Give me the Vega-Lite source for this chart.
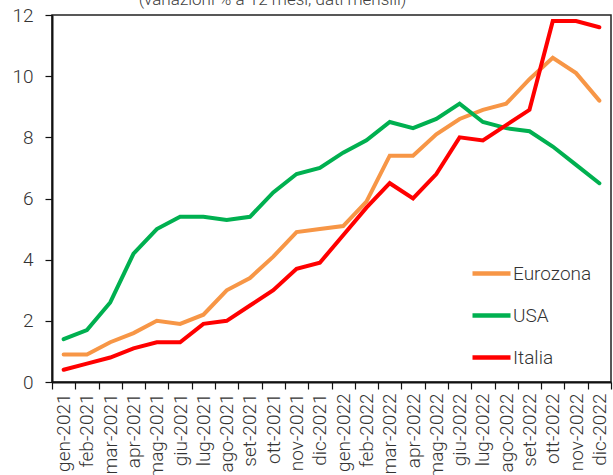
{
  "$schema": "https://vega.github.io/schema/vega-lite/v6.json",
  "autosize": {"type": "none"},
  "width": 559,
  "height": 367,
  "padding": {"left": 52, "top": 15, "right": 2, "bottom": 93},
  "background": "white",
  "title": {
    "text": "(variazioni % a 12 mesi, dati mensili)",
    "font": "Roboto",
    "fontWeight": 300,
    "fontSize": 17,
    "color": "#404040",
    "baseline": "alphabetic",
    "anchor": "middle",
    "frame": "group",
    "dx": -59,
    "dy": 13,
    "offset": -3
  },
  "config": {
    "view": {"stroke": "#222", "strokeWidth": 1.5},
    "font": "Roboto",
    "axis": {
      "labelFont": "Roboto",
      "labelFontWeight": 300,
      "labelFontSize": 19,
      "labelColor": "#333",
      "domainColor": "#111",
      "domainWidth": 2,
      "tickColor": "#111",
      "tickWidth": 1.2,
      "tickSize": 7,
      "grid": false,
      "title": null
    }
  },
  "datasets": {
    "infl": [
      {"mese": "gen-2021", "serie": "Eurozona", "valore": 0.9},
      {"mese": "feb-2021", "serie": "Eurozona", "valore": 0.9},
      {"mese": "mar-2021", "serie": "Eurozona", "valore": 1.3},
      {"mese": "apr-2021", "serie": "Eurozona", "valore": 1.6},
      {"mese": "mag-2021", "serie": "Eurozona", "valore": 2.0},
      {"mese": "giu-2021", "serie": "Eurozona", "valore": 1.9},
      {"mese": "lug-2021", "serie": "Eurozona", "valore": 2.2},
      {"mese": "ago-2021", "serie": "Eurozona", "valore": 3.0},
      {"mese": "set-2021", "serie": "Eurozona", "valore": 3.4},
      {"mese": "ott-2021", "serie": "Eurozona", "valore": 4.1},
      {"mese": "nov-2021", "serie": "Eurozona", "valore": 4.9},
      {"mese": "dic-2021", "serie": "Eurozona", "valore": 5.0},
      {"mese": "gen-2022", "serie": "Eurozona", "valore": 5.1},
      {"mese": "feb-2022", "serie": "Eurozona", "valore": 5.9},
      {"mese": "mar-2022", "serie": "Eurozona", "valore": 7.4},
      {"mese": "apr-2022", "serie": "Eurozona", "valore": 7.4},
      {"mese": "mag-2022", "serie": "Eurozona", "valore": 8.1},
      {"mese": "giu-2022", "serie": "Eurozona", "valore": 8.6},
      {"mese": "lug-2022", "serie": "Eurozona", "valore": 8.9},
      {"mese": "ago-2022", "serie": "Eurozona", "valore": 9.1},
      {"mese": "set-2022", "serie": "Eurozona", "valore": 9.9},
      {"mese": "ott-2022", "serie": "Eurozona", "valore": 10.6},
      {"mese": "nov-2022", "serie": "Eurozona", "valore": 10.1},
      {"mese": "dic-2022", "serie": "Eurozona", "valore": 9.2},
      {"mese": "gen-2021", "serie": "USA", "valore": 1.4},
      {"mese": "feb-2021", "serie": "USA", "valore": 1.7},
      {"mese": "mar-2021", "serie": "USA", "valore": 2.6},
      {"mese": "apr-2021", "serie": "USA", "valore": 4.2},
      {"mese": "mag-2021", "serie": "USA", "valore": 5.0},
      {"mese": "giu-2021", "serie": "USA", "valore": 5.4},
      {"mese": "lug-2021", "serie": "USA", "valore": 5.4},
      {"mese": "ago-2021", "serie": "USA", "valore": 5.3},
      {"mese": "set-2021", "serie": "USA", "valore": 5.4},
      {"mese": "ott-2021", "serie": "USA", "valore": 6.2},
      {"mese": "nov-2021", "serie": "USA", "valore": 6.8},
      {"mese": "dic-2021", "serie": "USA", "valore": 7.0},
      {"mese": "gen-2022", "serie": "USA", "valore": 7.5},
      {"mese": "feb-2022", "serie": "USA", "valore": 7.9},
      {"mese": "mar-2022", "serie": "USA", "valore": 8.5},
      {"mese": "apr-2022", "serie": "USA", "valore": 8.3},
      {"mese": "mag-2022", "serie": "USA", "valore": 8.6},
      {"mese": "giu-2022", "serie": "USA", "valore": 9.1},
      {"mese": "lug-2022", "serie": "USA", "valore": 8.5},
      {"mese": "ago-2022", "serie": "USA", "valore": 8.3},
      {"mese": "set-2022", "serie": "USA", "valore": 8.2},
      {"mese": "ott-2022", "serie": "USA", "valore": 7.7},
      {"mese": "nov-2022", "serie": "USA", "valore": 7.1},
      {"mese": "dic-2022", "serie": "USA", "valore": 6.5},
      {"mese": "gen-2021", "serie": "Italia", "valore": 0.4},
      {"mese": "feb-2021", "serie": "Italia", "valore": 0.6},
      {"mese": "mar-2021", "serie": "Italia", "valore": 0.8},
      {"mese": "apr-2021", "serie": "Italia", "valore": 1.1},
      {"mese": "mag-2021", "serie": "Italia", "valore": 1.3},
      {"mese": "giu-2021", "serie": "Italia", "valore": 1.3},
      {"mese": "lug-2021", "serie": "Italia", "valore": 1.9},
      {"mese": "ago-2021", "serie": "Italia", "valore": 2.0},
      {"mese": "set-2021", "serie": "Italia", "valore": 2.5},
      {"mese": "ott-2021", "serie": "Italia", "valore": 3.0},
      {"mese": "nov-2021", "serie": "Italia", "valore": 3.7},
      {"mese": "dic-2021", "serie": "Italia", "valore": 3.9},
      {"mese": "gen-2022", "serie": "Italia", "valore": 4.8},
      {"mese": "feb-2022", "serie": "Italia", "valore": 5.7},
      {"mese": "mar-2022", "serie": "Italia", "valore": 6.5},
      {"mese": "apr-2022", "serie": "Italia", "valore": 6.0},
      {"mese": "mag-2022", "serie": "Italia", "valore": 6.8},
      {"mese": "giu-2022", "serie": "Italia", "valore": 8.0},
      {"mese": "lug-2022", "serie": "Italia", "valore": 7.9},
      {"mese": "ago-2022", "serie": "Italia", "valore": 8.4},
      {"mese": "set-2022", "serie": "Italia", "valore": 8.9},
      {"mese": "ott-2022", "serie": "Italia", "valore": 11.8},
      {"mese": "nov-2022", "serie": "Italia", "valore": 11.8},
      {"mese": "dic-2022", "serie": "Italia", "valore": 11.6}
    ]
  },
  "data": {"name": "infl"},
  "mark": {"type": "line", "strokeWidth": 4, "strokeJoin": "miter", "strokeCap": "round"},
  "encoding": {
    "x": {
      "field": "mese",
      "type": "ordinal",
      "sort": null,
      "scale": {"paddingInner": 0, "paddingOuter": 0},
      "axis": {"labelAngle": -90, "tickBand": "extent", "labelPadding": 4, "labelBaseline": "middle", "labelAlign": "right"}
    },
    "y": {
      "field": "valore",
      "type": "quantitative",
      "scale": {"domain": [0, 12], "nice": false, "zero": true},
      "axis": {"values": [0, 2, 4, 6, 8, 10, 12], "labelPadding": 12}
    },
    "color": {
      "field": "serie",
      "type": "nominal",
      "sort": ["Eurozona", "USA", "Italia"],
      "scale": {"domain": ["Eurozona", "USA", "Italia"], "range": ["#F79646", "#00B050", "#FF0000"]},
      "legend": {
        "title": null,
        "orient": "none",
        "legendX": 418,
        "legendY": 237,
        "symbolType": "stroke",
        "symbolSize": 1444,
        "symbolStrokeWidth": 4.5,
        "labelOffset": 0,
        "rowPadding": 10,
        "padding": 0,
        "labelFont": "Roboto",
        "labelFontWeight": 300,
        "labelFontSize": 19,
        "labelColor": "#333"
      }
    }
  }
}
